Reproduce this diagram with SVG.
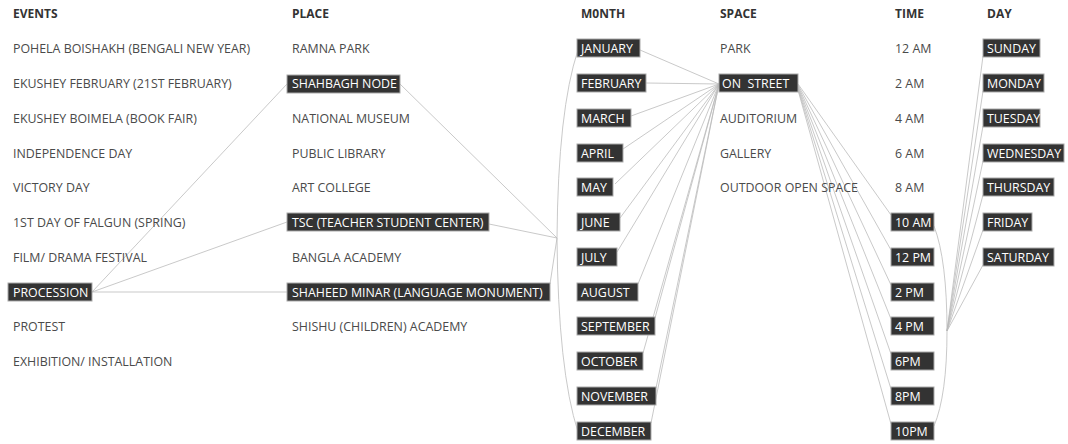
<svg xmlns="http://www.w3.org/2000/svg" width="1068" height="444" viewBox="0 0 1068 444">
<style>
text{font-family:"Open Sans","Liberation Sans",sans-serif;font-size:12.4px;fill:#4a4a4a}
.h{font-weight:bold;fill:#333;font-size:12px}
.b rect{fill:#333;stroke:#aaa;stroke-width:1}
.b text{fill:#fff}
#connectors path,#connectors line{stroke:#bbb;stroke-width:0.8;fill:none}
</style>
<rect width="1068" height="444" fill="#fff"/>
<g id="connectors">
<line x1="92" y1="292" x2="287" y2="84"/>
<line x1="92" y1="292" x2="287" y2="222"/>
<line x1="92" y1="292" x2="287" y2="292"/>
<line x1="400" y1="84" x2="557" y2="238"/>
<line x1="489" y1="224" x2="557" y2="238"/>
<line x1="550" y1="284" x2="557" y2="238"/>
<path d="M578,50 Q558,110 557,238 Q558,370 578,432"/>
<line x1="640" y1="50" x2="719" y2="84"/>
<line x1="646" y1="83" x2="719" y2="84"/>
<line x1="631" y1="116" x2="719" y2="84"/>
<line x1="623" y1="149" x2="719" y2="84"/>
<line x1="615" y1="184" x2="719" y2="84"/>
<line x1="620" y1="218" x2="719" y2="84"/>
<line x1="617" y1="252" x2="719" y2="84"/>
<line x1="638" y1="284" x2="719" y2="84"/>
<line x1="655" y1="318" x2="719" y2="84"/>
<line x1="643" y1="353" x2="719" y2="84"/>
<line x1="656" y1="388" x2="719" y2="84"/>
<line x1="651" y1="423" x2="719" y2="84"/>
<line x1="798" y1="84" x2="891" y2="215"/>
<line x1="798" y1="85" x2="891" y2="250"/>
<line x1="798" y1="86" x2="891" y2="285"/>
<line x1="798" y1="87" x2="891" y2="319"/>
<line x1="798" y1="88" x2="891" y2="354"/>
<line x1="798" y1="89" x2="891" y2="389"/>
<line x1="798" y1="90" x2="891" y2="424"/>
<path d="M934,226 Q947,260 947,331 Q947,395 934,426"/>
<line x1="947" y1="331" x2="983" y2="56"/>
<line x1="947" y1="331" x2="983" y2="91"/>
<line x1="947" y1="331" x2="983" y2="126"/>
<line x1="947" y1="331" x2="983" y2="161"/>
<line x1="947" y1="331" x2="983" y2="195"/>
<line x1="947" y1="331" x2="983" y2="230"/>
<line x1="947" y1="331" x2="983" y2="265"/>
</g>
<g id="headers">
<text class="h" x="13" y="18">EVENTS</text>
<text class="h" x="292" y="18">PLACE</text>
<text class="h" x="581" y="18">M0NTH</text>
<text class="h" x="720" y="18">SPACE</text>
<text class="h" x="895" y="18">TIME</text>
<text class="h" x="987" y="18">DAY</text>
</g>
<g id="events">
<text x="13" y="52.5">POHELA BOISHAKH (BENGALI NEW YEAR)</text>
<text x="13" y="87.5">EKUSHEY FEBRUARY (21ST FEBRUARY)</text>
<text x="13" y="122.5">EKUSHEY BOIMELA (BOOK FAIR)</text>
<text x="13" y="157.5">INDEPENDENCE DAY</text>
<text x="13" y="191.5">VICTORY DAY</text>
<text x="13" y="226.5">1ST DAY OF FALGUN (SPRING)</text>
<text x="13" y="261.5">FILM/ DRAMA FESTIVAL</text>
<g id="ev-procession" class="b"><rect x="8" y="283" width="84" height="18"/><text x="13" y="296.5">PROCESSION</text></g>
<text x="13" y="330.5">PROTEST</text>
<text x="13" y="365.5">EXHIBITION/ INSTALLATION</text>
</g>
<g id="places">
<text x="292" y="52.5">RAMNA PARK</text>
<g id="pl-shahbagh" class="b"><rect x="287" y="75" width="113" height="18"/><text x="292" y="87.5">SHAHBAGH NODE</text></g>
<text x="292" y="122.5">NATIONAL MUSEUM</text>
<text x="292" y="157.5">PUBLIC LIBRARY</text>
<text x="292" y="191.5">ART COLLEGE</text>
<g id="pl-tsc" class="b"><rect x="287" y="213" width="202" height="18"/><text x="292" y="226.5">TSC (TEACHER STUDENT CENTER)</text></g>
<text x="292" y="261.5">BANGLA ACADEMY</text>
<g id="pl-shaheed" class="b"><rect x="287" y="283" width="263" height="18"/><text x="292" y="296.5">SHAHEED MINAR (LANGUAGE MONUMENT)</text></g>
<text x="292" y="330.5">SHISHU (CHILDREN) ACADEMY</text>
</g>
<g id="months" class="b">
<g id="m-jan"><rect x="577" y="39" width="63" height="18"/><text x="581" y="52.5">JANUARY</text></g>
<g id="m-feb"><rect x="577" y="74" width="69" height="18"/><text x="581" y="87.5">FEBRUARY</text></g>
<g id="m-mar"><rect x="577" y="109" width="54" height="18"/><text x="581" y="122.5">MARCH</text></g>
<g id="m-apr"><rect x="577" y="144" width="46" height="18"/><text x="581" y="157.5">APRIL</text></g>
<g id="m-may"><rect x="577" y="178" width="36" height="18"/><text x="581" y="191.5">MAY</text></g>
<g id="m-jun"><rect x="577" y="213" width="43" height="18"/><text x="581" y="226.5">JUNE</text></g>
<g id="m-jul"><rect x="577" y="248" width="40" height="18"/><text x="581" y="261.5">JULY</text></g>
<g id="m-aug"><rect x="577" y="283" width="61" height="18"/><text x="581" y="296.5">AUGUST</text></g>
<g id="m-sep"><rect x="577" y="317" width="78" height="18"/><text x="581" y="330.5">SEPTEMBER</text></g>
<g id="m-oct"><rect x="577" y="352" width="66" height="18"/><text x="581" y="365.5">OCTOBER</text></g>
<g id="m-nov"><rect x="577" y="387" width="79" height="18"/><text x="581" y="400.5">NOVEMBER</text></g>
<g id="m-dec"><rect x="577" y="422" width="74" height="18"/><text x="581" y="435.5">DECEMBER</text></g>
</g>
<g id="spaces">
<text x="720" y="52.5">PARK</text>
<g id="sp-street" class="b"><rect x="719" y="74" width="79" height="18"/><text x="722" y="87.5" xml:space="preserve">ON  STREET</text></g>
<text x="720" y="122.5">AUDITORIUM</text>
<text x="720" y="157.5">GALLERY</text>
<text x="720" y="191.5">OUTDOOR OPEN SPACE</text>
</g>
<g id="times">
<text x="895" y="52.5">12 AM</text>
<text x="895" y="87.5">2 AM</text>
<text x="895" y="122.5">4 AM</text>
<text x="895" y="157.5">6 AM</text>
<text x="895" y="191.5">8 AM</text>
<g class="b">
<g id="t-10am"><rect x="891" y="213" width="43" height="18"/><text x="895" y="226.5">10 AM</text></g>
<g id="t-12pm"><rect x="891" y="248" width="43" height="18"/><text x="895" y="261.5">12 PM</text></g>
<g id="t-2pm"><rect x="891" y="283" width="43" height="18"/><text x="895" y="296.5">2 PM</text></g>
<g id="t-4pm"><rect x="891" y="317" width="43" height="18"/><text x="895" y="330.5">4 PM</text></g>
<g id="t-6pm"><rect x="891" y="352" width="43" height="18"/><text x="895" y="365.5">6PM</text></g>
<g id="t-8pm"><rect x="891" y="387" width="43" height="18"/><text x="895" y="400.5">8PM</text></g>
<g id="t-10pm"><rect x="891" y="422" width="43" height="18"/><text x="895" y="435.5">10PM</text></g>
</g>
</g>
<g id="days" class="b">
<g id="d-sun"><rect x="983" y="39" width="57" height="18"/><text x="987" y="52.5">SUNDAY</text></g>
<g id="d-mon"><rect x="983" y="74" width="61" height="18"/><text x="987" y="87.5">MONDAY</text></g>
<g id="d-tue"><rect x="983" y="109" width="57" height="18"/><text x="987" y="122.5">TUESDAY</text></g>
<g id="d-wed"><rect x="983" y="144" width="81" height="18"/><text x="987" y="157.5">WEDNESDAY</text></g>
<g id="d-thu"><rect x="983" y="178" width="71" height="18"/><text x="987" y="191.5">THURSDAY</text></g>
<g id="d-fri"><rect x="983" y="213" width="49" height="18"/><text x="987" y="226.5">FRIDAY</text></g>
<g id="d-sat"><rect x="983" y="248" width="71" height="18"/><text x="987" y="261.5">SATURDAY</text></g>
</g>
</svg>
